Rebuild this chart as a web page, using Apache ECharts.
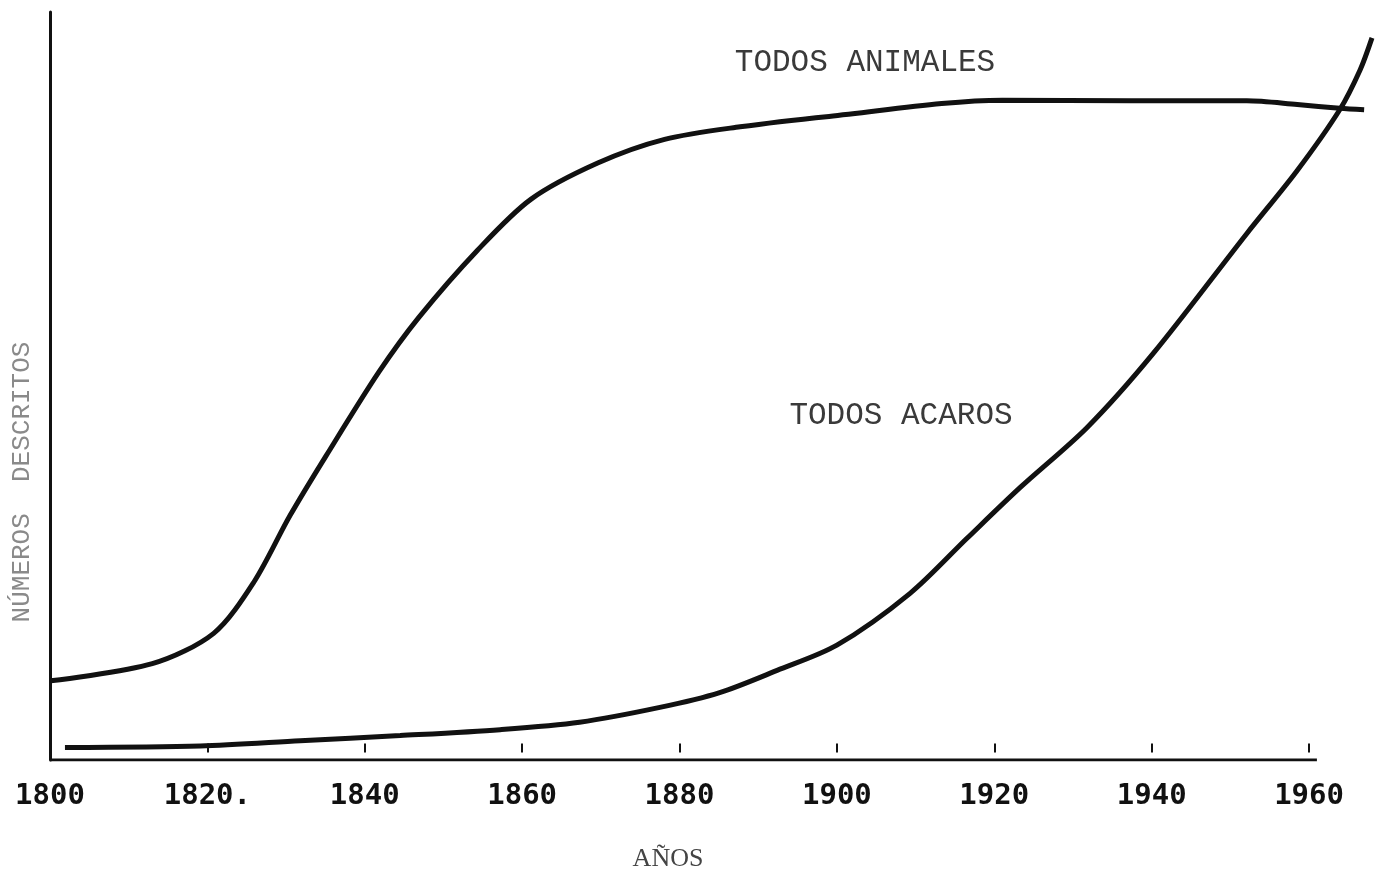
<!DOCTYPE html>
<html>
<head>
<meta charset="utf-8">
<title>Números descritos</title>
<script src="https://cdn.jsdelivr.net/npm/echarts@6/dist/echarts.min.js"></script>
<style>
  html, body { margin: 0; padding: 0; background: #fff; }
  #main { width: 1376px; height: 873px; }
</style>
</head>
<body>
<div id="main"></div>
<script>
// años y valores (escala relativa 0-100)
var years = [1800, 1820, 1840, 1860, 1880, 1900, 1920, 1940, 1960];
var yearLabels = ['1800', '1820.', '1840', '1860', '1880', '1900', '1920', '1940', '1960'];
var axisEnd = [1800, 1961];   // el eje dibujado termina poco después de 1960

var animalesYears = [1800.1, 1813, 1820.8, 1825.9, 1830.5, 1835.1, 1841.8, 1846.9, 1854.3, 1861.1, 1869.6, 1878.1, 1887.7, 1899, 1921, 1937.4, 1952.1, 1958.5, 1963.9, 1967];
var animalesVals  = [9.7, 12.0, 16.1, 23.0, 32.0, 40.1, 51.4, 58.8, 67.8, 74.7, 79.6, 82.8, 84.5, 85.9, 88.1, 88.0, 88.0, 87.5, 87.0, 86.8];

var acarosYears = [1801.9, 1819.1, 1831.8, 1844.5, 1857.2, 1867.3, 1877.5, 1885.1, 1892.4, 1900, 1909.3, 1916.5, 1923.3, 1931.8, 1940.2, 1952.1, 1958.5, 1963.9, 1966.5, 1968];
var acarosVals  = [0.7, 0.9, 1.6, 2.3, 3.1, 4.1, 6.1, 8.1, 11.1, 14.5, 21.5, 28.9, 35.8, 43.9, 53.9, 70.1, 78.6, 86.8, 92.2, 96.5];

function pairs(xs, ys) {
  var out = [];
  for (var i = 0; i < xs.length; i++) out.push([xs[i], ys[i]]);
  return out;
}

var chart = echarts.init(document.getElementById('main'));

chart.setOption({
  backgroundColor: '#ffffff',
  animation: false,
  title: [
    { text: 'TODOS ANIMALES', left: 860, top: 42, textAlign: 'center',
      textStyle: { fontFamily: 'Liberation Mono', fontSize: 31, fontWeight: 'normal', color: '#3a3a3a' } },
    { text: 'TODOS ACAROS', left: 896, top: 395, textAlign: 'center',
      textStyle: { fontFamily: 'Liberation Mono', fontSize: 31, fontWeight: 'normal', color: '#3a3a3a' } }
  ],
  graphic: [
    { type: 'text', x: 22, y: 482, rotation: Math.PI / 2,
      style: { text: 'NÚMEROS  DESCRITOS', align: 'center', verticalAlign: 'middle',
               font: '26px "Liberation Mono"', fill: '#8a8a8a' } }
  ],
  grid: { left: 50, right: 4, top: 12, bottom: 113, outerBoundsMode: 'none' },
  xAxis: {
    type: 'value',
    min: 1800,
    max: 1968,
    interval: 20,
    name: 'AÑOS',
    nameLocation: 'middle',
    nameGap: 86,
    nameTextStyle: { fontFamily: 'Liberation Serif', fontSize: 26, color: '#444', padding: [0, 86, 0, 0] },
    axisLine: { show: false },
    axisTick: { show: true, inside: true, length: 9, customValues: years, lineStyle: { color: '#111', width: 2 } },
    axisLabel: {
      customValues: years,
      margin: 22,
      fontFamily: 'DejaVu Sans Mono',
      fontWeight: 'bold',
      fontSize: 29,
      color: '#111',
      formatter: function (v) {
        var i = years.indexOf(v);
        return i >= 0 ? yearLabels[i] : '';
      }
    },
    splitLine: { show: false }
  },
  yAxis: {
    type: 'value',
    min: -1,
    max: 100,
    axisLine: { show: true, lineStyle: { color: '#111', width: 3 } },
    axisTick: { show: false },
    axisLabel: { show: false },
    splitLine: { show: false }
  },
  series: [
    {
      name: 'eje',
      type: 'line',
      symbol: 'none',
      silent: true,
      lineStyle: { color: '#111', width: 3 },
      data: [[axisEnd[0], -1], [axisEnd[1], -1]]
    },
    {
      name: 'TODOS ANIMALES',
      type: 'line',
      smooth: 0.3,
      symbol: 'none',
      lineStyle: { color: '#111', width: 5 },
      data: pairs(animalesYears, animalesVals)
    },
    {
      name: 'TODOS ACAROS',
      type: 'line',
      smooth: 0.3,
      symbol: 'none',
      lineStyle: { color: '#111', width: 5 },
      data: pairs(acarosYears, acarosVals)
    }
  ]
});
</script>
</body>
</html>
